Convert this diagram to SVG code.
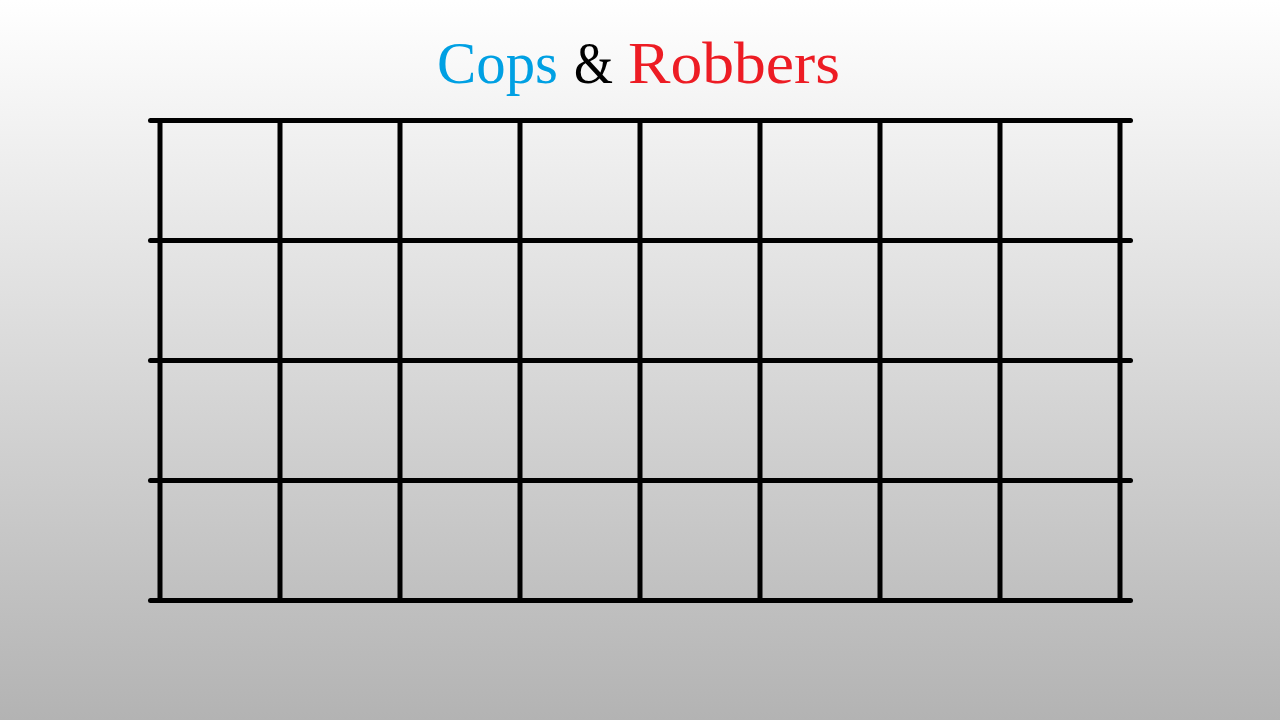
<svg xmlns="http://www.w3.org/2000/svg" width="1280" height="720" viewBox="0 0 1280 720">
<defs>
<linearGradient id="bg" x1="0" y1="0" x2="0" y2="1">
<stop offset="0" stop-color="#ffffff"/>
<stop offset="1" stop-color="#b3b3b3"/>
</linearGradient>
<style>
.g line{stroke:#000;stroke-width:5;stroke-linecap:round}
.t{font-family:"Liberation Serif",serif;font-size:60px}
</style>
</defs>
<rect width="1280" height="720" fill="url(#bg)"/>
<g id="title">
<text class="t" x="437" y="83" fill="#00A0E3" textLength="121" lengthAdjust="spacingAndGlyphs">Cops</text>
<text class="t" x="574" y="83" fill="#000" textLength="39" lengthAdjust="spacingAndGlyphs">&amp;</text>
<text class="t" x="628" y="83" fill="#ED1C24" textLength="212" lengthAdjust="spacingAndGlyphs">Robbers</text>
</g>
<g id="grid" class="g">
<line x1="150.5" y1="120.5" x2="1130.5" y2="120.5"/>
<line x1="150.5" y1="240.5" x2="1130.5" y2="240.5"/>
<line x1="150.5" y1="360.5" x2="1130.5" y2="360.5"/>
<line x1="150.5" y1="480.5" x2="1130.5" y2="480.5"/>
<line x1="150.5" y1="600.5" x2="1130.5" y2="600.5"/>
<line x1="160" y1="120.5" x2="160" y2="600.5"/>
<line x1="280" y1="120.5" x2="280" y2="600.5"/>
<line x1="400" y1="120.5" x2="400" y2="600.5"/>
<line x1="520" y1="120.5" x2="520" y2="600.5"/>
<line x1="640" y1="120.5" x2="640" y2="600.5"/>
<line x1="760" y1="120.5" x2="760" y2="600.5"/>
<line x1="880" y1="120.5" x2="880" y2="600.5"/>
<line x1="1000" y1="120.5" x2="1000" y2="600.5"/>
<line x1="1120" y1="120.5" x2="1120" y2="600.5"/>
</g>
</svg>
